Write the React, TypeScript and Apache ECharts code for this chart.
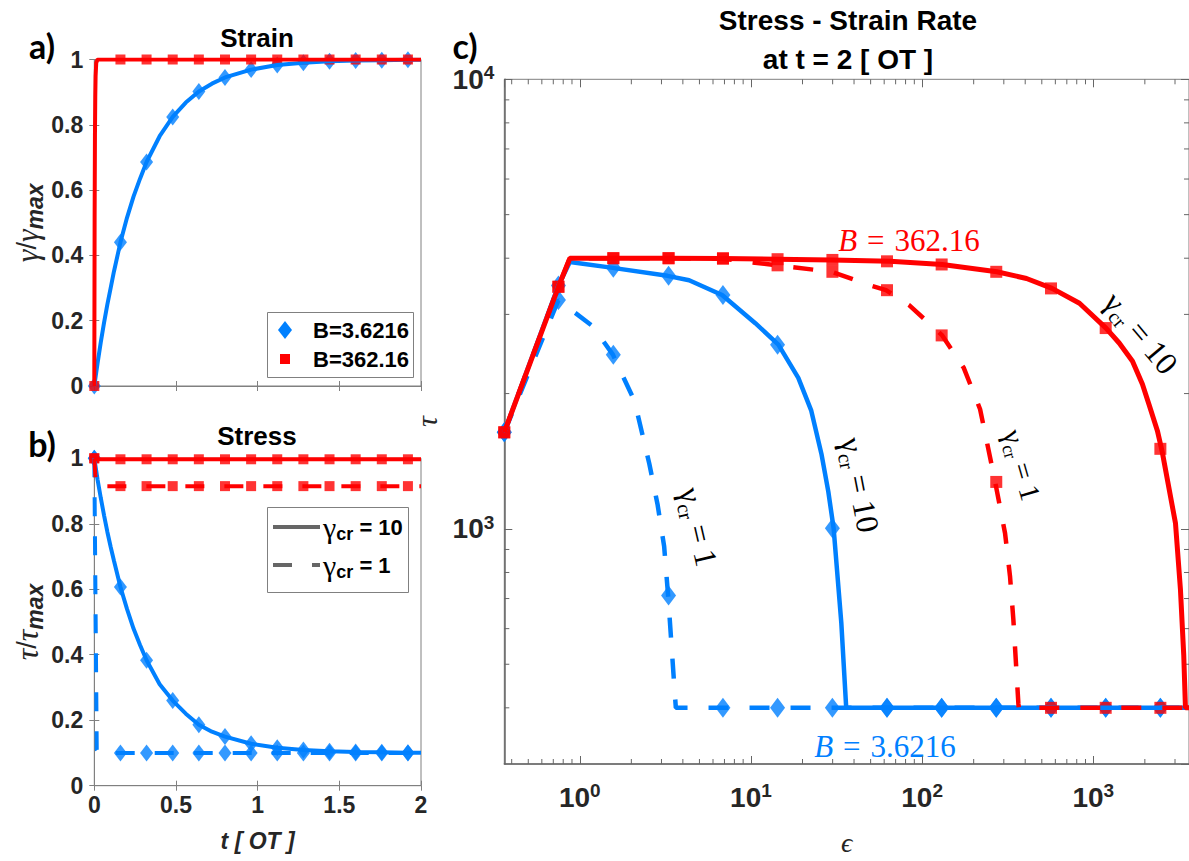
import React, { useEffect, useRef } from "react";
import * as echarts from "echarts";

const BLUE = "#0080ff";
const RED = "#ff0000";
const AXIS_GRAY = "#808080";
const TEXT_DARK = "#262626";
const SANS = "'Liberation Sans', Arial, sans-serif";
const SERIF = "'Liberation Serif', 'Times New Roman', serif";

// ---------- Panel a : strain ----------
const tMarkers = [0, 0.16, 0.32, 0.48, 0.64, 0.8, 0.96, 1.12, 1.28, 1.44, 1.6, 1.76, 1.92];
const strainLowT = [0, 0.02, 0.04, 0.06, 0.08, 0.1, 0.12, 0.16, 0.2, 0.24, 0.28, 0.32, 0.4, 0.48, 0.56, 0.64, 0.72, 0.8, 0.96, 1.12, 1.28, 1.44, 1.6, 1.76, 1.92, 2.0];
const strainLow = [0, 0.07, 0.135, 0.195, 0.25, 0.3, 0.35, 0.44, 0.515, 0.58, 0.635, 0.686, 0.765, 0.824, 0.868, 0.902, 0.926, 0.945, 0.969, 0.983, 0.99, 0.995, 0.997, 0.998, 0.999, 0.999];
const strainLowMarks = [0, 0.44, 0.686, 0.824, 0.902, 0.945, 0.969, 0.983, 0.99, 0.995, 0.997, 0.998, 0.999];
const strainHighT = [0, 0.002, 0.004, 0.006, 0.008, 0.012, 0.02, 2.0];
const strainHigh = [0, 0.52, 0.77, 0.89, 0.95, 0.99, 1, 1];
const strainHighMarks = [0, 1, 1, 1, 1, 1, 1, 1, 1, 1, 1, 1, 1];

// ---------- Panel b : stress ----------
const stressLowG10T = [0, 0.02, 0.04, 0.06, 0.08, 0.1, 0.12, 0.16, 0.2, 0.24, 0.28, 0.32, 0.4, 0.48, 0.56, 0.64, 0.72, 0.8, 0.96, 1.12, 1.28, 1.44, 1.6, 1.76, 1.92, 2.0];
const stressLowG10 = [1, 0.935, 0.878, 0.825, 0.775, 0.73, 0.688, 0.607, 0.54, 0.48, 0.43, 0.383, 0.31, 0.26, 0.22, 0.186, 0.165, 0.15, 0.128, 0.116, 0.109, 0.105, 0.103, 0.102, 0.101, 0.101];
const stressLowG10Marks = [1, 0.607, 0.383, 0.26, 0.186, 0.15, 0.128, 0.116, 0.109, 0.105, 0.103, 0.102, 0.101];
const stressLowG1T = [0, 0.015, 0.03, 2.0];
const stressLowG1 = [1, 0.11, 0.1, 0.1];
const stressLowG1Marks = [1, 0.1, 0.1, 0.1, 0.1, 0.1, 0.1, 0.1, 0.1, 0.1, 0.1, 0.1, 0.1];
const stressHighG10T = [0, 0.01, 2.0];
const stressHighG10 = [1, 0.997, 0.997];
const stressHighG10Marks = [1, 0.997, 0.997, 0.997, 0.997, 0.997, 0.997, 0.997, 0.997, 0.997, 0.997, 0.997, 0.997];
const stressHighG1T = [0, 0.006, 0.012, 2.0];
const stressHighG1 = [1, 0.95, 0.915, 0.915];
const stressHighG1Marks = [1, 0.915, 0.915, 0.915, 0.915, 0.915, 0.915, 0.915, 0.915, 0.915, 0.915, 0.915, 0.915];

// ---------- Panel c : stress vs strain rate ----------
const rateMarkers = [0.362, 0.75, 1.57, 3.3, 6.86, 14.3, 29.9, 62.3, 130, 271, 566, 1181, 2464];

const lowG10Rate = [0.362, 0.75, 0.875, 1.56, 3.25, 4.35, 6.78, 10.6, 14.45, 18.9, 22.5, 25.8, 28.3, 30.4, 33.7, 36.0, 3621.6];
const lowG10Tau = [1640, 3480, 3925, 3807, 3655, 3573, 3313, 2868, 2569, 2167, 1832, 1468, 1210, 1003, 619, 400, 400];
const lowG10Marks = [1640, 3480, 3807, 3655, 3313, 2569, 1003, 400, 400, 400, 400, 400, 400];

const lowG1Rate = [0.362, 0.75, 1.194, 1.56, 2.085, 2.547, 2.85, 3.11, 3.28, 3.59, 3.64, 3621.6];
const lowG1Tau = [1640, 3228, 2820, 2441, 1927, 1396, 1130, 914, 711, 430, 400, 400];
const lowG1Marks = [1640, 3228, 2441, 711, 400, 400, 400, 400, 400, 400, 400, 400, 400];

const highG10Rate = [0.362, 0.75, 0.875, 3.25, 6.78, 14.1, 29.7, 65, 131, 273, 407, 574, 830, 1186, 1416, 1694, 1936, 2115, 2367, 2529, 3020, 3228, 3375, 3453, 3621.6];
const highG10Tau = [1640, 3456, 4000, 4000, 3995, 3980, 3965, 3937, 3874, 3731, 3606, 3427, 3176, 2797, 2591, 2360, 2097, 1892, 1654, 1481, 1029, 733, 523, 400, 400];
const highG10Marks = [1640, 3456, 4000, 4000, 4000, 3980, 3965, 3937, 3874, 3731, 3427, 2797, 1507];

const highG1Rate = [0.362, 0.75, 0.875, 3.25, 6.78, 14.1, 29.7, 49.2, 61.5, 83.9, 131, 175, 218, 267, 305, 326, 341, 365, 367, 3621.6];
const highG1Tau = [1640, 3456, 4000, 4000, 3990, 3857, 3731, 3484, 3396, 3146, 2694, 2282, 1846, 1272, 978, 785, 629, 408, 400, 400];
const highG1Marks = [1640, 3456, 4000, 4000, 3990, 3857, 3731, 3396, 2694, 1272, 400, 400, 400];

const xMinorTicks = [0.4, 0.5, 0.6, 0.7, 0.8, 0.9, 2, 3, 4, 5, 6, 7, 8, 9, 20, 30, 40, 50, 60, 70, 80, 90, 200, 300, 400, 500, 600, 700, 800, 900, 2000, 3000];
const yMinorTicks = [400, 500, 600, 700, 800, 900, 2000, 3000, 4000, 5000, 6000, 7000, 8000, 9000];

const legendStrain = ["B=3.6216", "B=362.16"];
const legendStress = ["10", "1"];

const zip = (xs: number[], ys: number[]) => xs.map((x, i) => [x, ys[i]]);

function lineSeries(name: string, xs: number[], ys: number[], color: string, width: number, dash: any, axis: number) {
  return {
    type: "line",
    name,
    xAxisIndex: axis,
    yAxisIndex: axis,
    data: zip(xs, ys),
    symbol: "none",
    showSymbol: false,
    silent: true,
    lineStyle: { color, width, type: dash },
    itemStyle: { color },
  };
}

function markerSeries(name: string, xs: number[], ys: number[], color: string, symbol: string, size: any, axis: number) {
  return {
    type: "scatter",
    name,
    xAxisIndex: axis,
    yAxisIndex: axis,
    data: zip(xs, ys),
    symbol,
    symbolSize: size,
    silent: true,
    itemStyle: { color },
  };
}

const logLabel = (v: number) => {
  const e = Math.log10(v);
  const r = Math.round(e);
  if (Math.abs(e - r) > 1e-6) return "";
  return `{b|10}{s|${r}}`;
};
const logRich = {
  b: { fontSize: 28, fontWeight: "bold", fontFamily: SANS, color: TEXT_DARK, lineHeight: 32 },
  s: { fontSize: 19, fontWeight: "bold", fontFamily: SANS, color: TEXT_DARK, lineHeight: 19, verticalAlign: "top" },
};

const linTickLabel = { show: true, fontSize: 23, fontWeight: "bold", fontFamily: SANS, color: TEXT_DARK };

function linX(grid: number, showLabels: boolean, extra: any = {}) {
  return {
    gridIndex: grid, type: "value", min: 0, max: 2, interval: 0.5,
    axisLine: { show: true, onZero: false, lineStyle: { color: AXIS_GRAY, width: 1 } },
    axisTick: { show: true, inside: true, length: 5, lineStyle: { color: AXIS_GRAY } },
    axisLabel: showLabels ? { ...linTickLabel, margin: 8 } : { show: false },
    splitLine: { show: false },
    ...extra,
  };
}
function linY(grid: number, showLabels: boolean, extra: any = {}) {
  return {
    gridIndex: grid, type: "value", min: 0, max: 1, interval: 0.2,
    axisLine: { show: true, onZero: false, lineStyle: { color: AXIS_GRAY, width: 1 } },
    axisTick: { show: true, inside: true, length: 5, lineStyle: { color: AXIS_GRAY } },
    axisLabel: showLabels ? { ...linTickLabel, margin: 11 } : { show: false },
    splitLine: { show: false },
    ...extra,
  };
}

const minorTickStyle = { stroke: "#666", lineWidth: 1 };
const renderXMinor = (params: any, api: any) => {
  const cs = params.coordSys;
  const x = api.coord([api.value(0), api.value(1)])[0];
  const b = cs.y + cs.height;
  return {
    type: "group",
    children: [
      { type: "line", shape: { x1: x, y1: b, x2: x, y2: b - 5 }, style: minorTickStyle },
      { type: "line", shape: { x1: x, y1: cs.y, x2: x, y2: cs.y + 5 }, style: minorTickStyle },
    ],
  };
};
const renderYMinor = (params: any, api: any) => {
  const cs = params.coordSys;
  const y = api.coord([api.value(0), api.value(1)])[1];
  const r = cs.x + cs.width;
  return {
    type: "group",
    children: [
      { type: "line", shape: { x1: cs.x, y1: y, x2: cs.x + 5, y2: y }, style: minorTickStyle },
      { type: "line", shape: { x1: r, y1: y, x2: r - 5, y2: y }, style: minorTickStyle },
    ],
  };
};

const gammaRich = (size: number) => ({
  g: { fontFamily: SERIF, fontSize: size, fill: "#000", lineHeight: size + 6 },
  s: { fontFamily: SERIF, fontSize: Math.round(size * 0.62), fill: "#000", lineHeight: Math.round(size * 0.62), verticalAlign: "bottom" },
  t: { fontFamily: SERIF, fontSize: size, fill: "#000", lineHeight: size + 6 },
});

function gammaLabel(x: number, y: number, deg: number, value: string, size: number) {
  return {
    type: "text", x, y, rotation: (-deg * Math.PI) / 180, silent: true,
    style: { text: `{g|γ}{s|cr}{t| = ${value}}`, rich: gammaRich(size), align: "center", verticalAlign: "middle" },
  };
}
function bLabel(x: number, y: number, value: string, color: string) {
  return {
    type: "text", x, y, silent: true,
    style: {
      text: `{i|B}{e|=}{n|${value}}`,
      align: "center", verticalAlign: "middle",
      rich: {
        i: { fontFamily: SERIF, fontStyle: "italic", fontSize: 31, fill: color },
        e: { fontFamily: SERIF, fontSize: 31, fill: color, padding: [0, 10, 0, 10] },
        n: { fontFamily: SERIF, fontSize: 31, fill: color },
      },
    },
  };
}
function plainText(x: number, y: number, text: string, size: number, family: string, align = "center") {
  return {
    type: "text", x, y, silent: true,
    style: { text, fontSize: size, fontWeight: "bold", fontFamily: family, fill: "#000", align, verticalAlign: "middle" },
  };
}

const axisNameRich = {
  g: { fontFamily: SERIF, fontStyle: "italic", fontSize: 32, color: TEXT_DARK, lineHeight: 38 },
  n: { fontFamily: SANS, fontSize: 27, color: TEXT_DARK, lineHeight: 38 },
  m: { fontFamily: SANS, fontStyle: "italic", fontWeight: "bold", fontSize: 23, color: TEXT_DARK, lineHeight: 23, verticalAlign: "bottom" },
};

const legendTextRich = {
  g: { fontFamily: SERIF, fontSize: 30, fill: "#000", lineHeight: 32 },
  s: { fontFamily: SANS, fontWeight: "bold", fontSize: 18, fill: "#000", lineHeight: 18, verticalAlign: "bottom" },
  t: { fontFamily: SANS, fontWeight: "bold", fontSize: 22, fill: "#000", lineHeight: 32 },
};

const legendGraphics: any[] = [
  // panel a legend
  { type: "rect", shape: { x: 267.5, y: 312.5, width: 146, height: 65 }, style: { fill: "#fff", stroke: AXIS_GRAY, lineWidth: 1 }, silent: true, z: 10 },
  { type: "polygon", shape: { points: [[285, 321], [292, 330], [285, 339], [278, 330]] }, style: { fill: BLUE }, silent: true, z: 11 },
  { type: "rect", shape: { x: 280, y: 354, width: 10, height: 10 }, style: { fill: RED }, silent: true, z: 11 },
  { ...plainText(313, 330, legendStrain[0], 22, SANS, "left"), z: 11 },
  { ...plainText(313, 359, legendStrain[1], 22, SANS, "left"), z: 11 },
  // panel b legend
  { type: "rect", shape: { x: 267.5, y: 507.5, width: 141, height: 85 }, style: { fill: "#fff", stroke: AXIS_GRAY, lineWidth: 1 }, silent: true, z: 10 },
  { type: "line", shape: { x1: 273, y1: 527, x2: 320, y2: 527 }, style: { stroke: "#666", lineWidth: 4 }, silent: true, z: 11 },
  { type: "line", shape: { x1: 273, y1: 565, x2: 320, y2: 565 }, style: { stroke: "#666", lineWidth: 4, lineDash: [19, 20] }, silent: true, z: 11 },
  {
    type: "text", x: 323, y: 527, silent: true, z: 11,
    style: { text: `{g|γ}{s|cr}{t| = ${legendStress[0]}}`, rich: legendTextRich, align: "left", verticalAlign: "middle" },
  },
  {
    type: "text", x: 323, y: 565, silent: true, z: 11,
    style: { text: `{g|γ}{s|cr}{t| = ${legendStress[1]}}`, rich: legendTextRich, align: "left", verticalAlign: "middle" },
  },
];

const option: any = {
  animation: false,
  backgroundColor: "#fff",
  grid: [
    { left: 94.3, top: 59.5, width: 326.7, height: 326.5, show: true, borderColor: AXIS_GRAY, borderWidth: 1, backgroundColor: "transparent" },
    { left: 94.3, top: 458.3, width: 326.7, height: 327.4, show: true, borderColor: AXIS_GRAY, borderWidth: 1, backgroundColor: "transparent" },
    { left: 504.3, top: 79.3, width: 689.3, height: 690, show: true, borderColor: AXIS_GRAY, borderWidth: 1, backgroundColor: "transparent" },
  ],
  xAxis: [
    linX(0, false),
    linX(1, true, {
      name: "t [ OT ]", nameLocation: "middle", nameGap: 44,
      nameTextStyle: { fontSize: 23, fontWeight: "bold", fontStyle: "italic", fontFamily: SANS, color: TEXT_DARK },
    }),
    {
      gridIndex: 2, type: "log", logBase: 10, min: 0.36216, max: 3621.6,
      axisLine: { show: true, onZero: false, lineStyle: { color: "#666", width: 1.5 } },
      axisTick: { show: true, inside: true, length: 8, lineStyle: { color: "#666" } },
      axisLabel: { show: true, formatter: logLabel, rich: logRich, margin: 17, showMinLabel: false, showMaxLabel: false },
      splitLine: { show: false },
      name: "ϵ", nameLocation: "middle", nameGap: 64,
      nameTextStyle: { fontFamily: SERIF, fontStyle: "italic", fontSize: 28, color: TEXT_DARK },
    },
    linX(0, false, { position: "top", axisLine: { show: false } }),
    linX(1, false, { position: "top", axisLine: { show: false } }),
    {
      gridIndex: 2, type: "log", logBase: 10, min: 0.36216, max: 3621.6, position: "top",
      axisLine: { show: false }, axisLabel: { show: false }, splitLine: { show: false },
      axisTick: { show: true, inside: true, length: 8, lineStyle: { color: "#666" } },
    },
  ],
  yAxis: [
    linY(0, true, {
      name: "{g|γ}{n|/}{g|γ}{m|max}", nameLocation: "middle", nameGap: 48, nameRotate: 90,
      nameTextStyle: { rich: axisNameRich },
    }),
    linY(1, true, {
      name: "{g|τ}{n|/}{g|τ}{m|max}", nameLocation: "middle", nameGap: 48, nameRotate: 90,
      nameTextStyle: { rich: axisNameRich },
    }),
    {
      gridIndex: 2, type: "log", logBase: 10, min: 300, max: 10000,
      axisLine: { show: true, onZero: false, lineStyle: { color: "#666", width: 1.5 } },
      axisTick: { show: true, inside: true, length: 8, lineStyle: { color: "#666" } },
      axisLabel: { show: true, formatter: logLabel, rich: logRich, margin: 10, showMinLabel: false },
      splitLine: { show: false },
      name: "τ", nameLocation: "middle", nameGap: 55, nameRotate: 90,
      nameTextStyle: { fontFamily: SERIF, fontStyle: "italic", fontSize: 30, color: TEXT_DARK },
    },
    linY(0, false, { position: "right", axisLine: { show: false } }),
    linY(1, false, { position: "right", axisLine: { show: false } }),
    {
      gridIndex: 2, type: "log", logBase: 10, min: 300, max: 10000, position: "right",
      axisLine: { show: false }, axisLabel: { show: false }, splitLine: { show: false },
      axisTick: { show: true, inside: true, length: 8, lineStyle: { color: "#666" } },
    },
  ],
  series: [
    // ---- panel a ----
    lineSeries("a low curve", strainLowT, strainLow, BLUE, 4, "solid", 0),
    markerSeries("B=3.6216", tMarkers, strainLowMarks, BLUE, "diamond", [13, 17], 0),
    lineSeries("a high curve", strainHighT, strainHigh, RED, 4, "solid", 0),
    markerSeries("B=362.16", tMarkers, strainHighMarks, RED, "rect", 10, 0),
    // ---- panel b ----
    lineSeries("b low g10", stressLowG10T, stressLowG10, BLUE, 4, "solid", 1),
    markerSeries("b low g10 m", tMarkers, stressLowG10Marks, BLUE, "diamond", [13, 17], 1),
    lineSeries("b low g1", stressLowG1T, stressLowG1, BLUE, 4, [19, 20], 1),
    markerSeries("b low g1 m", tMarkers, stressLowG1Marks, BLUE, "diamond", [13, 17], 1),
    lineSeries("b high g10", stressHighG10T, stressHighG10, RED, 4, "solid", 1),
    markerSeries("b high g10 m", tMarkers, stressHighG10Marks, RED, "rect", 10, 1),
    lineSeries("b high g1", stressHighG1T, stressHighG1, RED, 4, [19, 20], 1),
    markerSeries("b high g1 m", tMarkers, stressHighG1Marks, RED, "rect", 10, 1),
    // ---- panel c ----
    lineSeries("c low g10", lowG10Rate, lowG10Tau, BLUE, 4.5, "solid", 2),
    markerSeries("c low g10 m", rateMarkers, lowG10Marks, BLUE, "diamond", [15, 20], 2),
    lineSeries("c low g1", lowG1Rate, lowG1Tau, BLUE, 4.5, [20, 21], 2),
    markerSeries("c low g1 m", rateMarkers, lowG1Marks, BLUE, "diamond", [15, 20], 2),
    lineSeries("c high g10", highG10Rate, highG10Tau, RED, 5, "solid", 2),
    markerSeries("c high g10 m", rateMarkers, highG10Marks, RED, "rect", 12, 2),
    lineSeries("c high g1", highG1Rate, highG1Tau, RED, 4.5, [20, 21], 2),
    markerSeries("c high g1 m", rateMarkers, highG1Marks, RED, "rect", 12, 2),
    {
      type: "custom", name: "x minor ticks", xAxisIndex: 2, yAxisIndex: 2, silent: true, clip: false,
      data: xMinorTicks.map((v) => [v, 1000]), renderItem: renderXMinor,
    },
    {
      type: "custom", name: "y minor ticks", xAxisIndex: 2, yAxisIndex: 2, silent: true, clip: false,
      data: yMinorTicks.map((v) => [1, v]), renderItem: renderYMinor,
    },
  ],
  graphic: [
    plainText(42, 45, "a)", 34, "Lato, " + SANS),
    plainText(42, 443, "b)", 34, "Lato, " + SANS),
    plainText(465, 45, "c)", 34, "Lato, " + SANS),
    plainText(257, 38, "Strain", 26, SANS),
    plainText(257, 436, "Stress", 26, SANS),
    plainText(848, 20, "Stress - Strain Rate", 28, SANS),
    plainText(848, 59, "at t = 2 [ OT ]", 28, SANS),
    bLabel(909, 240, "362.16", RED),
    bLabel(885, 746, "3.6216", BLUE),
    gammaLabel(1141, 333, 50, "10", 32),
    gammaLabel(860, 485, 79, "10", 32),
    gammaLabel(1022, 465, 74, "1", 29),
    gammaLabel(698, 527, 77, "1", 32),
    ...legendGraphics,
  ],
};

export default function App() {
  const ref = useRef<HTMLDivElement>(null);
  useEffect(() => {
    const chart = echarts.init(ref.current as HTMLDivElement, undefined, { renderer: "svg" });
    chart.setOption(option);
    return () => chart.dispose();
  }, []);
  return (
    <div
      ref={ref}
      style={{ position: "absolute", left: 0, top: 0, width: 1189, height: 861, background: "#fff" }}
    />
  );
}
